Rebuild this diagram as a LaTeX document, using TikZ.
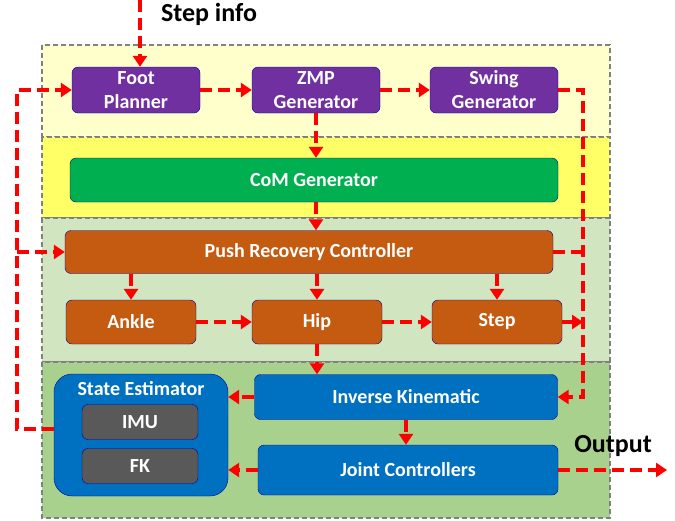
\documentclass[tikz,border=0pt]{standalone}
\usepackage{fontspec}
\setmainfont{Carlito}
\usetikzlibrary{arrows,arrows.meta,positioning,calc}

\definecolor{lightyel}{HTML}{FFFFCC}
\definecolor{yel}{HTML}{FFFF66}
\definecolor{lightgrn}{HTML}{D1E5C1}
\definecolor{grn}{HTML}{A9D18E}
\definecolor{purp}{HTML}{7030A0}
\definecolor{comgrn}{HTML}{00B050}
\definecolor{orng}{HTML}{C55A11}
\definecolor{blu}{HTML}{0070C0}
\definecolor{dgray}{HTML}{595959}

\begin{document}
\begin{tikzpicture}
[x=1pt,y=-1pt,
 region/.style={draw=gray,dashed,line width=1.2pt,dash pattern=on 5pt off 3pt},
 blk/.style={draw=black!40!blue,line width=0.4pt,rounded corners=6pt,text=white,
   font=\bfseries\fontsize{20}{24}\selectfont,align=center,inner sep=0pt},
 flow/.style={draw=red,line width=3.5pt,dash pattern=on 12pt off 6pt,
   -{Triangle[length=11pt,width=14pt]}},
 bus/.style={draw=red,line width=3.5pt,dash pattern=on 12pt off 6pt}]
\useasboundingbox (0,0) rectangle (675,520);

% layers
\draw[region,fill=lightyel] (42,45) rectangle (610,137);
\draw[region,fill=yel] (42,137) rectangle (610,218);
\draw[region,fill=lightgrn] (42,218) rectangle (610,362);
\draw[region,fill=grn] (42,362) rectangle (610,518);

% blocks
\node[blk,fill=purp,minimum width=128pt,minimum height=46pt] (foot) at (136,90) {Foot\\Planner};
\node[blk,fill=purp,minimum width=128pt,minimum height=46pt] (zmp) at (316,90) {ZMP\\Generator};
\node[blk,fill=purp,minimum width=128pt,minimum height=46pt] (swing) at (494,90) {Swing\\Generator};
\node[blk,fill=comgrn,minimum width=488pt,minimum height=44pt] (com) at (314,180) {CoM Generator};
\node[blk,fill=orng,minimum width=488pt,minimum height=43pt] (push) at (309,252) {Push Recovery Controller};
\node[blk,fill=orng,minimum width=130pt,minimum height=44pt] (ankle) at (131,322) {Ankle};
\node[blk,fill=orng,minimum width=130pt,minimum height=44pt] (hip) at (317,322) {Hip};
\node[blk,fill=orng,minimum width=130pt,minimum height=44pt] (step) at (497,322) {Step};
\node[blk,fill=blu,rounded corners=18pt,minimum width=174pt,minimum height=122pt] (se) at (141,435) {};
\node[text=white,font=\bfseries\fontsize{20}{24}\selectfont] (setitle) at (141,389) {State Estimator};
\node[blk,fill=dgray,minimum width=116pt,minimum height=35pt] (imu) at (140,422) {IMU};
\node[blk,fill=dgray,minimum width=116pt,minimum height=35pt] (fk) at (140,466) {FK};
\node[blk,fill=blu,minimum width=303pt,minimum height=45pt] (ik) at (406,397) {Inverse Kinematic};
\node[blk,fill=blu,minimum width=300pt,minimum height=50pt] (jc) at (408,470) {Joint Controllers};

% labels
\node[font=\bfseries\fontsize{26}{30}\selectfont] (info) at (209,14) {Step info};
\node[font=\bfseries\fontsize{26}{30}\selectfont] (outlbl) at (613,446) {Output};

\coordinate (stepin) at (140,0);
\coordinate (rb) at (583,0);
\coordinate (lb) at (17,0);
\coordinate (out) at (667,470);

% connections
\draw[flow] (stepin) -- (stepin |- foot.north);
\draw[flow] (foot.east) -- (zmp.west);
\draw[flow] (zmp.east) -- (swing.west);
\draw[flow] (swing.east) -| (rb |- ik.east) -- (ik.east);
\draw[flow] (zmp.south) -- (zmp.south |- com.north);
\draw[flow] (zmp.south |- com.south) -- (zmp.south |- push.north);
\draw[flow] (ankle.north |- push.south) -- (ankle.north);
\draw[flow] (hip.north |- push.south) -- (hip.north);
\draw[flow] (step.north |- push.south) -- (step.north);
\draw[bus] (push.east) -- (rb |- push.east);
\draw[flow] (ankle.east) -- (hip.west);
\draw[flow] (hip.east) -- (step.west);
\draw[flow] (step.east) -- (rb |- step.east);
\draw[flow] (hip.south) -- (hip.south |- ik.north);
\draw[flow] (ik.west) -- (se.east |- ik.west);
\draw[flow] (ik.south) -- (ik.south |- jc.north);
\draw[flow] (jc.west) -- (se.east |- jc.west);
\draw[flow] (jc.east) -- (out);
\draw[flow] ([yshift=6pt]se.west) -| (lb |- foot.west) -- (foot.west);
\draw[flow] (lb |- push.west) -- (push.west);
\end{tikzpicture}
\end{document}
